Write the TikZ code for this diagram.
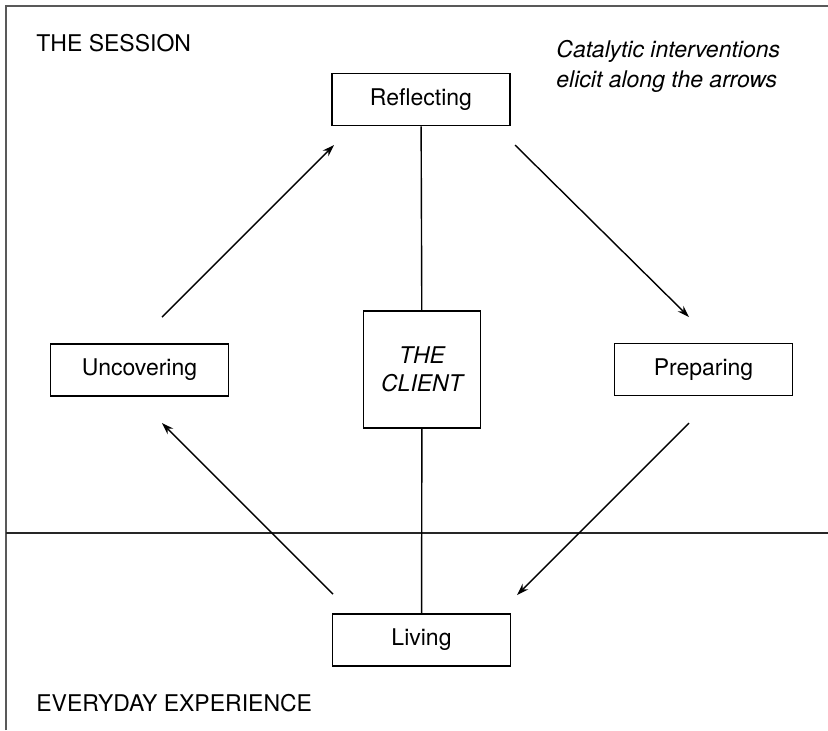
\documentclass[tikz,border=0pt]{standalone}
\usepackage{fontspec}
\setmainfont{TeX Gyre Heros}
\usetikzlibrary{arrows.meta}

\tikzset{
	stage/.style={draw, line width=0.9pt, minimum width=89pt, minimum height=26pt, inner sep=0pt},
	flow/.style={line width=0.7pt, -{Stealth[length=6pt,width=4pt]}},
	link/.style={line width=0.7pt},
}

\begin{document}
\begin{tikzpicture}[x=0.5pt, y=-0.5pt, font=\fontsize{11.5}{15}\selectfont]
			%%%%% START %%%%%
			\useasboundingbox (0,0) rectangle (828,730);
			
			\draw[line width=0.7pt, color=black!65] (6,730) -- (6,6) -- (828,6);
			\draw[line width=0.8pt, color=black!85] (6,533) -- (828,533);
			
			\node[anchor=west, inner sep=0pt] (session) at (36,43) {THE SESSION};
			\node[anchor=west, inner sep=0pt] (everyday) at (36,703) {EVERYDAY EXPERIENCE};
			\node[anchor=west, inner sep=0pt, align=left, font=\fontsize{11.5}{15}\selectfont\itshape] (note) at (556,66) {Catalytic interventions\\elicit along the arrows};
			
			\node[stage] (refl) at (421,99.5) {Reflecting};
			\node[stage] (uncov) at (139.5,370) {Uncovering};
			\node[stage] (prep) at (703.5,369.5) {Preparing};
			\node[stage] (living) at (421.5,640) {Living};
			\node[stage, minimum size=58.5pt, align=center, font=\fontsize{11.5}{14}\selectfont\itshape] (client) at (422,369.5) {THE\\CLIENT};
			
			\draw[link] (refl) -- (client);
			\draw[link] (client) -- (living);
			
			\coordinate (uncov-out) at (162,317);
			\coordinate (refl-in) at (334,145);
			\coordinate (refl-out) at (515,145);
			\coordinate (prep-in) at (689,317);
			\coordinate (prep-out) at (689,423);
			\coordinate (living-in) at (517,595);
			\coordinate (living-out) at (333,594);
			\coordinate (uncov-in) at (162,423);
			
			\draw[flow] (uncov-out) -- (refl-in);
			\draw[flow] (refl-out) -- (prep-in);
			\draw[flow] (prep-out) -- (living-in);
			\draw[flow] (living-out) -- (uncov-in);
			%%%%% END %%%%%
\end{tikzpicture}
\end{document}
